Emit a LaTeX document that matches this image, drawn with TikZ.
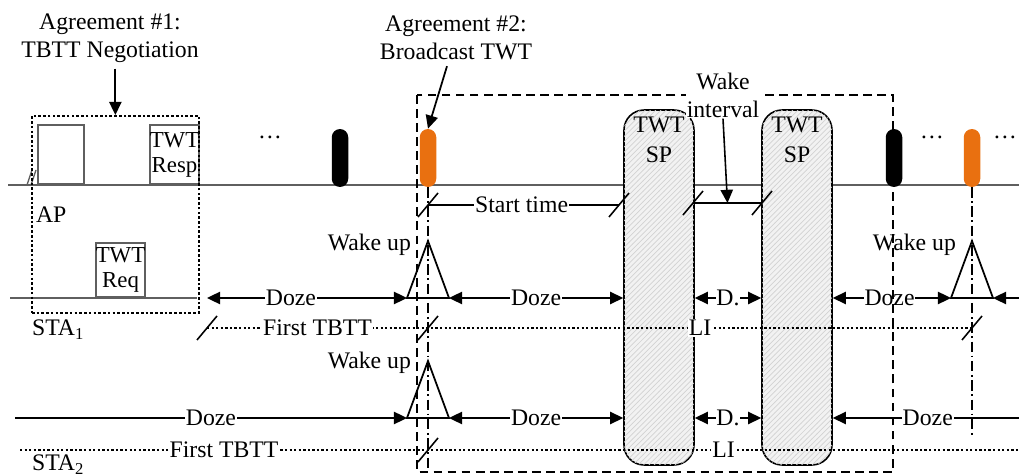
\documentclass[tikz,border=0pt]{standalone}
\usepackage{fontspec}
\setmainfont{Liberation Serif}
\usetikzlibrary{arrows.meta}
\usetikzlibrary{patterns}
\usetikzlibrary{positioning}

\definecolor{twtorange}{RGB}{233,112,16}
\definecolor{axisgray}{RGB}{95,95,95}

\tikzset{
    txt/.style={font=\fontsize{13.5}{16}\selectfont, inner sep=1pt},
    onlabel/.style={txt, fill=white, inner sep=0.5pt},
    timeaxis/.style={draw=axisgray, line width=0.8pt},
    pktbox/.style={draw=axisgray, line width=0.9pt, minimum width=0.92cm, minimum height=1.18cm,
        anchor=south west, align=center, inner sep=0pt, font=\fontsize{13}{14}\selectfont},
    pill/.style={minimum width=0.33cm, minimum height=1.16cm, rounded corners=0.165cm, inner sep=0pt},
    spbox/.style={draw, line width=0.9pt, rounded corners=0.4cm, minimum width=1.4cm, minimum height=7.1cm,
        fill=gray!10, postaction={pattern=north east lines, pattern color=gray!35}},
    doze/.style={line width=1.1pt},
    wakeline/.style={line width=1pt},
    tbtt/.style={line width=0.9pt, dash pattern=on 1.3pt off 1.3pt},
    dashdot/.style={line width=0.9pt, dash pattern=on 6pt off 2pt on 1pt off 2pt},
    bigdash/.style={line width=0.9pt, dash pattern=on 5pt off 3pt},
}
\newcommand{\tslash}[1]{\draw[line width=0.9pt] (#1) +(-10,12) -- +(10,-12);}

\begin{document}
\begin{tikzpicture}[x=0.02cm, y=-0.02cm, >={Triangle[length=7.5pt,width=7pt]}]
    \useasboundingbox (0,0) rectangle (1019,476);

    % time axes
    \draw[timeaxis] (8,185) -- (1019,185);
    \draw[timeaxis] (27,185) -- (32,170) (31,185) -- (36,170);
    \draw[timeaxis] (10,298) -- (197,298);

    % individual TWT negotiation
    \node[pktbox] (bcn0) at (37,185) {};
    \node[pktbox] (resp) at (149,185) {TWT\\Resp};
    \node[pktbox, minimum height=1.08cm] (req) at (95,298) {TWT\\Req};
    \node[draw, line width=1pt, dash pattern=on 1.5pt off 1.2pt, minimum width=3.34cm, minimum height=3.94cm,
        anchor=north west, inner sep=0pt] (neg) at (31,115) {};

    \node[txt, anchor=west] (ap) at (34,215) {AP};
    \node[txt, anchor=west] (sta1) at (30,330) {STA\textsubscript{1}};
    \node[txt, anchor=west] (sta2) at (30,465) {STA\textsubscript{2}};
    \foreach \dx in {270,932,1005}
        \node[txt, anchor=base] (dots\dx) at (\dx,139) {\dots};

    % service periods
    \node[spbox] (sp1) at (659,287.5) {};
    \node[spbox] (sp2) at (797,287.5) {};
    \foreach \s in {sp1,sp2}
        \node[txt, align=center, below=0.12cm of \s.north, font=\fontsize{13.5}{17}\selectfont] (\s-txt) {TWT\\SP};

    % listen intervals
    \coordinate (t1a) at (207,328);
    \coordinate (t1b) at (428,328);
    \coordinate (t1c) at (972,328);
    \draw[tbtt] (t1a) -- node[onlabel] {First TBTT} (t1b) -- node[onlabel] {LI} (t1c);
    \foreach \c in {t1a,t1b,t1c}
        \tslash{\c}
    \coordinate (t2a) at (20,450);
    \coordinate (t2b) at (428,450);
    \coordinate (t2c) at (1019,450);
    \draw[tbtt] (t2a) -- node[onlabel] {First TBTT} (t2b) -- node[onlabel] {LI} (t2c);
    \tslash{t2b}

    % wake up
    \foreach \cx/\cy/\w in {428/298/wa, 972/298/wb, 428/418/wc}{
        \coordinate (\w-l) at (\cx-21,\cy);
        \coordinate (\w-r) at (\cx+21,\cy);
        \coordinate (\w-t) at (\cx,\cy-57);
        \draw[wakeline] (\w-l) -- (\w-t) -- (\w-r) -- cycle;
    }
    \node[txt, anchor=east] (wu1) at (413,245) {Wake up};
    \node[txt, anchor=east] (wu2) at (958,245) {Wake up};
    \node[txt, anchor=east] (wu3) at (413,363) {Wake up};

    % doze periods of STA1
    \coordinate (d1) at (207,298);
    \coordinate (d1end) at (1019,298);
    \draw[doze, <->] (d1) -- node[onlabel, pos=0.42] {Doze} (wa-l);
    \draw[doze, <->] (wa-r) -- node[onlabel] {Doze} (sp1.west |- wa-r);
    \draw[doze, <->] (sp1.east |- wa-r) -- node[onlabel] {D.} (sp2.west |- wa-r);
    \draw[doze, <->] (sp2.east |- wa-r) -- node[onlabel, pos=0.48] {Doze} (wb-l);
    \draw[doze, ->] (d1end) -- (wb-r);

    % doze periods of STA2
    \coordinate (d2) at (15,418);
    \coordinate (d2end) at (1019,418);
    \draw[doze, ->] (d2) -- node[onlabel] {Doze} (wc-l);
    \draw[doze, <->] (wc-r) -- node[onlabel] {Doze} (sp1.west |- wc-r);
    \draw[doze, <->] (sp1.east |- wc-r) -- node[onlabel] {D.} (sp2.west |- wc-r);
    \draw[doze, <-] (sp2.east |- wc-r) -- node[onlabel, pos=0.51] {Doze} (d2end);

    % start time and wake interval
    \coordinate (st0) at (428,205);
    \coordinate (st1) at (619,205);
    \draw[line width=0.9pt] (st0) -- node[onlabel, pos=0.49] {Start time} (st1);
    \tslash{st0}
    \tslash{st1}
    \coordinate (wi0) at (693,203);
    \coordinate (wi1) at (762,203);
    \draw[line width=0.9pt] (wi0) -- coordinate (wim) (wi1);
    \tslash{wi0}
    \tslash{wi1}

    % broadcast TWT
    \coordinate (v1) at (428,470);
    \coordinate (v2) at (972,435);
    \draw[dashdot] (428,187) -- (v1);
    \draw[dashdot] (972,187) -- (v2);
    \draw[bigdash] (417,95) rectangle (893,472);

    % beacons
    \node[pill, fill=black] (bk1) at (340,158) {};
    \node[pill, fill=twtorange] (or1) at (428,158) {};
    \node[pill, fill=black] (bk2) at (894,158) {};
    \node[pill, fill=twtorange] (or2) at (972,158) {};

    \node[onlabel, align=center] (wake) at (723,95) {Wake\\interval};
    \draw[->, line width=0.9pt] (wake.south) -- (wim);

    \node[txt, align=center] (ag1) at (110,38) {Agreement \#1:\\TBTT Negotiation};
    \draw[->, line width=1pt] ([yshift=-0.08cm]ag1.south -| neg.north) -- (neg.north);
    \node[txt, align=center] (ag2) at (456,38) {Agreement \#2:\\Broadcast TWT};
    \draw[->, line width=1pt] ([xshift=-0.18cm, yshift=-0.08cm]ag2.south) -- (or1.north);
\end{tikzpicture}
\end{document}
